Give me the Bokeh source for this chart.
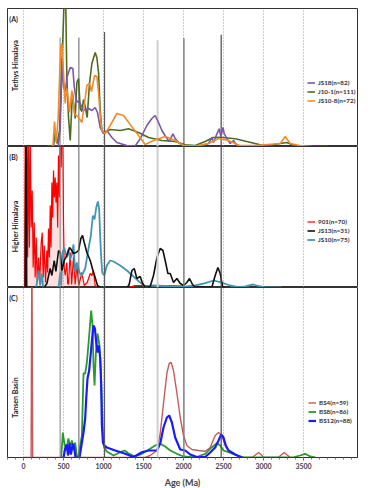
import math
from bokeh.plotting import figure
from bokeh.layouts import column
from bokeh.models import Range1d, FixedTicker, Span, Legend, LegendItem, Label
from bokeh.embed import file_html
from bokeh.resources import INLINE

# ---------------- data (age in Ma, relative probability) ----------------
# Panel A - Tethys Himalaya
js18_age = [350, 434, 459, 484, 500, 521, 546, 584, 617, 634, 659, 709, 750, 813, 855, 896, 925, 959, 1000,
            1042, 1105, 1167, 1292, 1396, 1459, 1542, 1605, 1646, 1688, 1730, 1784, 1821, 1868, 1896, 1938,
            2000, 2209, 2313, 2355, 2375, 2418, 2446, 2468, 2493, 2509, 2543, 2584, 2625, 2668, 2746]
js18_p = [0, 0, 20, 89, 60, 55, 70, 79, 78, 60, 46, 43, 36, 38, 36, 39, 34, 19, 13,
          16, 9, 4, 1, 0.5, 7.7, 21, 28, 31, 24, 16, 9, 5, 12.7, 8, 4,
          1, 0.5, 3, 9, 4, 12.7, 17.7, 10, 19, 13, 7.7, 3, 6, 1, 0]

j101_age = [300, 375, 396, 417, 450, 480, 509, 525, 542, 562, 584, 612, 625, 646, 667, 688, 709, 730, 750,
            771, 796, 825, 855, 896, 917, 938, 959, 980, 1009, 1084, 1209, 1313, 1438, 1563, 1730, 1896,
            2021, 2146, 2271, 2371, 2459, 2646, 2855, 3021, 3209, 3292, 3396, 3809]
j101_p = [0, 0, 15, 3, 15, 79, 150, 160, 68, 30, 6, 54, 44, 28, 64, 68, 38, 35, 47,
          40, 29, 63, 83, 94, 89, 74, 36, 16, 14, 17, 16, 17.7, 14, 9, 6, 5,
          1.7, 1, 5, 9, 9.3, 7.7, 3.7, 0.5, 3, 4, 0.5, 0.3]

js108_age = [300, 367, 388, 409, 434, 465, 480, 500, 521, 542, 575, 605, 640, 680, 730, 759, 792, 825, 850,
             888, 917, 938, 959, 980, 1021, 1084, 1167, 1250, 1334, 1438, 1521, 1625, 1771, 1896, 2000,
             2150, 2313, 2438, 2563, 2700, 2900, 3209, 3271, 3334, 3450, 3600]
js108_p = [0, 0, 25, 4, 30, 100, 103, 74, 43, 58, 34, 56, 32, 30, 24, 41, 61, 63, 55,
           71, 70, 54, 31, 16, 13, 21, 33, 31, 22, 11, 2, 6, 10, 6, 1,
           0.5, 3, 8, 6, 1, 1, 3, 10, 3, 1, 0]

# Panel B - Higher Himalaya
s901_age = [0, 15, 21, 31, 42, 52, 62, 74, 84, 96, 109, 121, 134, 146, 159, 171, 188, 202, 221, 234, 246,
            259, 275, 292, 302, 312, 324, 334, 344, 355, 365, 375, 386, 396, 406, 417, 427, 437, 449, 459,
            471, 480, 490, 500, 509, 521, 542, 552, 562, 584, 602, 625, 646, 667, 690, 730, 759, 796, 834,
            855, 875, 896, 917, 1309, 1396, 1584, 1834, 1980, 2021]
s901_p = [0, 0, 160, 20, 160, 30, 160, 40, 150, 60, 97, 20, 65, 10, 50, 5, 30, 4, 45, 55, 10,
          42, 5, 37, 15, 59, 30, 82, 40, 105, 70, 117, 90, 110, 85, 105, 60, 132, 90, 170,
          120, 170, 170, 66, 20, 12, 25, 4, 3, 35, 3, 31, 3, 22, 2, 15, 2, 5, 14,
          12, 17, 2, 0, 0, 2, 2, 2, 1.5, 0]

js13_age = [21, 31, 40, 259, 292, 334, 355, 384, 405, 438, 459, 480, 509, 542, 575, 596, 625, 659, 688,
            717, 738, 759, 792, 834, 875, 896, 925, 959, 1296, 1321, 1355, 1384, 1417, 1459, 1484, 1521,
            1584, 1625, 1668, 1709, 1743, 1771, 1805, 1834, 1875, 1918, 1959, 2000, 2042, 2075, 2113,
            2146, 2355, 2396, 2430, 2459, 2488, 2521]
js13_p = [0, 170, 0, 0, 4, 19, 12, 27, 16, 37, 35, 17, 27, 32, 40, 38, 34, 35, 37,
          49, 52, 45, 35, 27, 15, 10, 2, 0, 0, 3, 17, 19, 9, 11, 5, 0,
          1, 12, 30, 39, 37, 27, 14, 14, 5, 9, 4, 2, 5, 9, 3,
          0.5, 0.5, 12, 20, 14, 1, 0]

js10_age = [159, 188, 209, 230, 246, 438, 459, 471, 490, 509, 542, 562, 584, 605, 625, 646, 667, 700, 730,
            771, 813, 842, 867, 888, 909, 930, 946, 959, 971, 984, 1009, 1042, 1084, 1125, 1209, 1292,
            1375, 1459, 1521, 1605, 1771, 1980, 2146, 2271, 2375, 2459, 2584, 2688, 2771, 2875, 2934,
            3021, 3230]
js10_p = [0, 17, 2, 14, 0, 0, 15, 2, 35, 40, 30, 38, 28, 33, 43, 15, 25, 15, 12,
          19, 39, 52, 72, 68, 80, 86, 78, 50, 30, 15, 12, 22, 27, 26, 22, 17,
          11, 5, 1, 2, 1.5, 0.5, 2, 4.3, 7, 5.3, 2, 0.3, 1, 3, 1.5,
          0.2, 0]

# Panel C - Tansen Basin
bs4_age = [0, 95, 105, 115, 1521, 1584, 1668, 1709, 1750, 1792, 1821, 1846, 1875, 1918, 1959, 2000, 2042,
           2105, 2188, 2271, 2334, 2396, 2438, 2480, 2521, 2563, 2646, 2730, 2859, 2938, 3009, 3184,
           3259, 3334]
bs4_p = [0, 0, 220, 0, 0, 2, 7, 24, 54, 84, 94, 95, 87, 64, 40, 22, 12,
         8, 7, 6.3, 10, 22, 25, 22, 12, 7, 3, 0, 0, 5, 0, 0,
         5, 0]

bs8_age = [471, 492, 509, 534, 562, 584, 605, 625, 646, 667, 688, 709, 730, 750, 771, 792, 813, 834, 846,
           863, 875, 888, 905, 925, 938, 950, 968, 980, 993, 1009, 1042, 1125, 1209, 1263, 1313, 1396,
           1480, 1563, 1646, 1709, 1771, 1834, 1918, 2000, 2146, 2271, 2355, 2418, 2459, 2500, 2563,
           2668, 2771, 3359, 3459, 3521, 3584, 3646]
bs8_p = [0, 25, 15, 7, 19, 11, 17, 7, 15, 2, 0, 12, 22, 84, 84, 95, 114, 135, 147,
         132, 92, 72, 105, 124, 118, 112, 85, 55, 22, 10, 6, 2, 5.3, 7, 4, 1,
         3.7, 7.7, 12, 13.7, 11, 7, 3.7, 1, 0, 3.7, 10.3, 14.3, 12, 7, 5.3,
         2, 0, 0, 2, 3.7, 1, 0]

bs12_age = [500, 521, 542, 556, 575, 592, 617, 634, 650, 700, 730, 750, 771, 784, 800, 821, 842, 859, 875,
            892, 909, 925, 942, 959, 971, 980, 993, 1009, 1042, 1146, 1271, 1375, 1480, 1563, 1668, 1709,
            1750, 1792, 1821, 1855, 1896, 1959, 2021, 2084, 2167, 2271, 2334, 2396, 2438, 2471, 2500,
            2529, 2563, 2646, 2730]
bs12_p = [0, 9, 13, 2, 14, 3, 14, 10, 0, 0, 15, 25, 39, 59, 79, 87, 105, 120, 132,
          129, 115, 105, 112, 99, 72, 32, 15, 12, 10, 7, 3.7, 0.5, 5.3, 7, 7, 14,
          30, 40, 42, 35, 20, 8, 7, 3, 0.5, 0.5, 5, 10, 17, 23, 20,
          12, 7, 3, 0]

# key age lines (Ma) and x-axis ticks
ref_ages = [458, 692, 1013, 1676, 2005, 2471]
ref_top_A = [0.79, 0.79, 0.83, 0.77, 0.785, 0.81]
tick_vals = [0, 500, 1000, 1500, 2000, 2500, 3000, 3500]

# ---------------- styling ----------------
FONT = "Lato"
ref_colors = ["#8c8c8c", "#6e6e6e", "#5a5a5a", "#cfcfcf", "#808080", "#4a4a4a"]
ref_widths = [1.1, 1.1, 1.2, 2.0, 1.5, 1.2]

x_range = Range1d(-200, 4175)
FW = 350


def make_panel(h, bottom_axis=False, top_pad=0):
    p = figure(x_range=x_range, y_range=Range1d(0, h), frame_width=FW, frame_height=h,
               output_backend="svg", toolbar_location=None,
               x_axis_location="below" if bottom_axis else None, y_axis_location=None,
               min_border_left=7, min_border_right=6, min_border_top=top_pad,
               min_border_bottom=0 if not bottom_axis else 2)
    p.outline_line_color = "#333333"
    p.outline_line_width = 1
    p.background_fill_color = "white"
    p.border_fill_color = "white"
    p.ygrid.visible = False
    p.xgrid.ticker = FixedTicker(ticks=tick_vals)
    p.xgrid.grid_line_color = "#9a9a9a"
    p.xgrid.grid_line_dash = "1 2"
    p.xgrid.grid_line_width = 1
    return p


def add_ref_lines(p, h, partial=None):
    if partial is None:
        for a, c, w in zip(ref_ages, ref_colors, ref_widths):
            p.add_layout(Span(location=a, dimension="height", line_color=c, line_width=w))
    else:
        tops = [f * h for f in partial]
        for a, t, c, w in zip(ref_ages, tops, ref_colors, ref_widths):
            p.segment(x0=[a], y0=[0], x1=[a], y1=[t], line_color=c, line_width=w)


def add_texts(p, tag, name, name_y, h):
    p.add_layout(Label(x=-178, y=h - 10, text=tag, text_font=FONT, text_font_size="7px",
                       text_font_style="bold", text_color="#222222", text_baseline="middle"))
    p.add_layout(Label(x=-112, y=name_y, text=name, angle=math.pi / 2, text_font=FONT,
                       text_font_size="7px", text_font_style="bold", text_color="#222222",
                       text_align="center", text_baseline="middle"))


def add_legend(p, items, loc):
    leg = Legend(items=[LegendItem(label=l, renderers=[r]) for l, r in items], location=loc,
                 border_line_color=None, background_fill_alpha=0, padding=0, margin=0, spacing=0,
                 label_standoff=3, glyph_width=8, glyph_height=9, label_height=9,
                 label_text_font=FONT, label_text_font_size="6.3px", label_text_font_style="bold",
                 label_text_color="#333333")
    p.add_layout(leg)


# Panel A
hA = 138
pA = make_panel(hA, top_pad=8)
add_ref_lines(pA, hA, ref_top_A)
rA2 = pA.line(j101_age, j101_p, line_color="#4f6b22", line_width=1.6)
rA1 = pA.line(js18_age, js18_p, line_color="#7b58a6", line_width=1.6)
rA3 = pA.line(js108_age, js108_p, line_color="#ef8b2c", line_width=1.6)
add_texts(pA, "(A)", "Tethys Himalaya", 81, hA)
add_legend(pA, [("JS18(n=82)", rA1), ("J10-1(n=111)", rA2), ("JS10-8(n=72)", rA3)], (300, 41))

# Panel B
hB = 141
pB = make_panel(hB)
add_ref_lines(pB, hB)
pB.varea(x=s901_age, y1=0, y2=s901_p, fill_color="#ff0000", fill_alpha=0.12)
rB1 = pB.line(s901_age, s901_p, line_color="#ff0000", line_width=1.2)
rB3 = pB.line(js10_age, js10_p, line_color="#4396b2", line_width=1.8)
rB2 = pB.line(js13_age, js13_p, line_color="#111111", line_width=1.6)
add_texts(pB, "(B)", "Higher Himalaya", 61, hB)
add_legend(pB, [("901(n=70)", rB1), ("JS13(n=31)", rB2), ("JS10(n=75)", rB3)], (300, 43))

# Panel C
hC = 170
pC = make_panel(hC, bottom_axis=True)
add_ref_lines(pC, hC)
rC1 = pC.line(bs4_age, bs4_p, line_color="#c65b5b", line_width=1.4)
rC2 = pC.line(bs8_age, bs8_p, line_color="#2a9a2a", line_width=1.8)
rC3 = pC.line(bs12_age, bs12_p, line_color="#1a1aff", line_width=2.2)
add_texts(pC, "(C)", "Tansen Basin", 60, hC)
add_legend(pC, [("BS4(n=59)", rC1), ("BS8(n=86)", rC2), ("BS12(n=88)", rC3)], (301, 32))

ax = pC.xaxis[0]
ax.ticker = FixedTicker(ticks=tick_vals, minor_ticks=list(range(-200, 4200, 100)))
ax.axis_line_color = "#333333"
ax.major_tick_line_color = "#555555"
ax.minor_tick_line_color = "#777777"
ax.major_tick_out = 3
ax.major_tick_in = 0
ax.minor_tick_out = 2
ax.minor_tick_in = 0
ax.major_label_standoff = 2
ax.major_label_text_font = FONT
ax.major_label_text_font_size = "7px"
ax.major_label_text_font_style = "bold"
ax.major_label_text_color = "#444444"
ax.axis_label = "Age (Ma)"
ax.axis_label_text_font = FONT
ax.axis_label_text_font_size = "9px"
ax.axis_label_text_font_style = "bold"
ax.axis_label_text_color = "#444444"
ax.axis_label_standoff = 5

layout = column(pA, pB, pC, spacing=0)
open("out.html", "w").write(file_html(layout, INLINE))
